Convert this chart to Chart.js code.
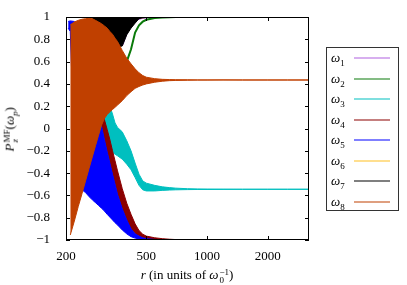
<!DOCTYPE html>
<html>
<head>
<meta charset="utf-8">
<script src="https://cdn.jsdelivr.net/npm/chart.js@4/dist/chart.umd.min.js"></script>
<style>
  body { margin: 0; background: #fff; }
  #wrap { position: relative; width: 407px; height: 285px; font-family: "Liberation Serif", serif; color: #000; }
  #chart { position: absolute; left: 0; top: 0; }
  .ss { display: inline-block; vertical-align: middle; font-size: 9px; line-height: 8px; text-align: left; margin-left: 1px; }
  .ss span { display: block; }
  #xlab { position: absolute; left: 87px; top: 267px; width: 200px; text-align: center; font-size: 13px; line-height: 16px; }
  #ylab { position: absolute; left: -38px; top: 119px; width: 100px; text-align: center; font-size: 13px; line-height: 16px; transform: rotate(-90deg); }
  #legend { position: absolute; left: 326px; top: 47px; width: 73px; height: 164px; border: 1px solid #333; box-sizing: border-box; }
  .row { position: absolute; left: 0; width: 71px; height: 20px; }
  .row .lab { position: absolute; left: 4px; top: 1px; font-size: 13px; line-height: 18px; font-style: italic; }
  .row .lab sub { font-style: normal; font-size: 9px; }
  .row .smp { position: absolute; left: 27px; top: 9px; width: 36px; height: 2px; opacity: 0.5; }
</style>
</head>
<body>
<div id="wrap">
  <canvas id="chart" width="407" height="285"></canvas>
  <div id="ylab"><i>P</i><span class="ss"><span>MF</span><span><i>z</i></span></span>(<i>ω<sub style="font-size:9px">p</sub></i>)</div>
  <div id="xlab"><i>r</i> (in units of <i>ω</i><span class="ss"><span>−1</span><span>0</span></span>)</div>
  <div id="legend"></div>
</div>
<script>
// r values (units of 1/omega0) where the envelopes were read
const rGrid = [205, 210, 220, 230, 240, 250, 260, 270, 280, 290, 300, 310, 320, 330, 340, 350, 360, 380, 400, 420, 440, 460, 480, 500, 550, 600, 650, 700, 800, 900, 1000, 1200, 1500, 2000, 2500, 3200];

const xTicks = [200, 500, 1000, 2000];
const yTicks = [-1, -0.8, -0.6, -0.4, -0.2, 0, 0.2, 0.4, 0.6, 0.8, 1];

const labels = ['1', '2', '3', '4', '5', '6', '7', '8'];
const colors = ['#b060e0', '#0a7a0a', '#00bfbf', '#8b0000', '#0000ff', '#ffc020', '#000000', '#c04000'];

// omega1, omega2, omega6: thin lines
const w1 = [null, null, null, null, null, null, null, null, null, null, null, null, null, null, null, null, null,
  0.75, 0.86, 0.93, 0.97, 0.985, 0.992, 0.996, 0.999, 1, 1, 1, 1, 1, 1, 1, 1, 1, 1, 1];
const w2 = [null, null, null, null, null, null, null, null, null, null, null, null, null, null, null, null,
  0.3, 0.45, 0.6, 0.71, 0.86, 0.925, 0.958, 0.975, 0.99, 0.996, 0.998, 1, 1, 1, 1, 1, 1, 1, 1, 1];
const w6 = [null, null, null, null, null, null, null, null, null, null, null, null, null, null, null, null, null, null,
  0.97, 0.98, 0.99, 0.995, 0.998, 0.999, 1, 1, 1, 1, 1, 1, 1, 1, 1, 1, 1, 1];

// oscillating ones: upper / lower envelopes
const w3Upper = [null, null, null, null, null, null, null, null, null, null,
  0.4, 0.33, 0.26, 0.2, 0.13, 0.05, 0.01, -0.03, -0.11, -0.2, -0.31, -0.41, -0.47, -0.49, -0.51, -0.523, -0.53, -0.535, -0.54, -0.542, -0.543, -0.544, -0.545, -0.545, -0.545, -0.545];
const w3Lower = [null, null, null, null, null, null, null, null, null, null,
  0.1, -0.05, -0.15, -0.19, -0.215, -0.23, -0.245, -0.275, -0.32, -0.37, -0.44, -0.51, -0.55, -0.56, -0.56, -0.555, -0.552, -0.55, -0.548, -0.547, -0.547, -0.546, -0.545, -0.545, -0.545, -0.545];

const w4Upper = [null, null, null, null, null, null, null, null, null, null,
  0.2, 0.08, -0.01, -0.1, -0.2, -0.29, -0.38, -0.54, -0.67, -0.77, -0.855, -0.915, -0.948, -0.965, -0.98, -0.988, -0.993, -0.996, -0.998, -0.999, -1, -1, -1, -1, -1, -1];
const w4Lower = [null, null, null, null, null, null, null, null, null, null,
  0.02, -0.1, -0.21, -0.31, -0.41, -0.5, -0.59, -0.72, -0.82, -0.9, -0.945, -0.965, -0.98, -0.988, -0.995, -0.997, -0.998, -0.999, -1, -1, -1, -1, -1, -1, -1, -1];

const w5Upper = [0.96, 0.965, 0.96, 0.9, 0.8, 0.7, 0.6, 0.5, 0.4, 0.3,
  0.02, -0.1, -0.21, -0.31, -0.41, -0.5, -0.59, -0.72, -0.82, -0.9, -0.945, -0.965, -0.98, -0.988, -0.995, -0.997, -0.998, -0.999, -1, -1, -1, -1, -1, -1, -1, -1];
const w5Lower = [0.9, 0.87, -0.2, -0.45, -0.55, -0.575, -0.61, -0.64, -0.665, -0.69, -0.715, -0.74, -0.77, -0.795, -0.82, -0.845, -0.865, -0.91, -0.945, -0.97, -0.983, -0.99, -0.995, -0.998,
  -1, -1, -1, -1, -1, -1, -1, -1, -1, -1, -1, -1];

const w7Upper = [null, null, null, null, null, null, null,
  1, 1, 1, 1, 1, 1, 1, 1, 1, 1, 1, 1, 1, 1, 1, 1, 1, 1, 1, 1, 1, 1, 1, 1, 1, 1, 1, 1, 1];
const w7Lower = [null, null, null, null, null, null, null,
  0.99, 0.96, 0.93, 0.9, 0.87, 0.84, 0.8, 0.77, 0.75, 0.73, 0.74, 0.84, 0.9, 0.945, 0.985, 0.993, 0.996, 0.999, 1, 1, 1, 1, 1, 1, 1, 1, 1, 1, 1];

const w8Upper = [null,
  0.93, 0.955, 0.97, 0.98, 0.985, 0.988, 0.985, 0.97, 0.955, 0.94, 0.92, 0.9, 0.87, 0.845, 0.81, 0.78, 0.7, 0.63, 0.58, 0.535, 0.5, 0.475, 0.46, 0.447, 0.441, 0.439, 0.438, 0.437, 0.436, 0.436, 0.436, 0.435, 0.435, 0.435, 0.435];
const w8Lower = [null,
  -0.955, -0.83, -0.7, -0.585, -0.47, -0.36, -0.255, -0.155, -0.06, 0.03, 0.09, 0.125, 0.15, 0.17, 0.19, 0.21, 0.25, 0.295, 0.33, 0.36, 0.377, 0.39, 0.4, 0.415, 0.424, 0.429, 0.431, 0.433, 0.434, 0.434, 0.435, 0.435, 0.435, 0.435, 0.435];

const series = [
  { line: w1 },
  { line: w2 },
  { upper: w3Upper, lower: w3Lower },
  { upper: w4Upper, lower: w4Lower },
  { upper: w5Upper, lower: w5Lower },
  { line: w6 },
  { upper: w7Upper, lower: w7Lower },
  { upper: w8Upper, lower: w8Lower }
];

const toPoints = vals => rGrid.map((r, i) => ({ x: r, y: vals[i] })).filter(p => p.y !== null);

const buildDatasets = () => {
  const datasets = [];
  series.forEach((s, i) => {
    // gnuplot draws omega1 first, omega8 last (on top)
    const order = series.length - i;
    if (s.line) {
      datasets.push({ label: labels[i], data: toPoints(s.line), borderColor: colors[i], borderWidth: 2, fill: false, order: order });
    } else {
      datasets.push({ label: labels[i], data: toPoints(s.upper), borderColor: colors[i], backgroundColor: colors[i], borderWidth: 1, fill: '+1', order: order });
      datasets.push({ label: labels[i] + '-low', data: toPoints(s.lower), borderColor: colors[i], borderWidth: 1, fill: false, order: order });
    }
  });
  return datasets;
};

const tickFont = { family: 'Liberation Serif', size: 13 };

// frame + inward ticks on all four sides, like gnuplot
const framePlugin = {
  id: 'frame',
  afterDraw(chart) {
    const { ctx, chartArea, scales } = chart;
    const { left, right, top, bottom } = chartArea;
    ctx.save();
    ctx.strokeStyle = '#000';
    ctx.lineWidth = 1;
    ctx.strokeRect(left + 0.5, top + 0.5, right - left - 1, bottom - top - 1);
    ctx.beginPath();
    yTicks.forEach(v => {
      const py = Math.round(scales.y.getPixelForValue(v)) + 0.5;
      ctx.moveTo(left, py); ctx.lineTo(left + 4, py);
      ctx.moveTo(right - 4, py); ctx.lineTo(right, py);
    });
    xTicks.forEach(v => {
      const px = Math.round(scales.x.getPixelForValue(v)) + 0.5;
      ctx.moveTo(px, bottom); ctx.lineTo(px, bottom - 4);
      ctx.moveTo(px, top); ctx.lineTo(px, top + 4);
    });
    ctx.stroke();
    ctx.restore();
  }
};

new Chart(document.getElementById('chart'), {
  type: 'line',
  data: { datasets: buildDatasets() },
  options: {
    responsive: false,
    animation: false,
    devicePixelRatio: 1,
    layout: { padding: { top: 17, right: 98, left: 0, bottom: 0 } },
    elements: { point: { radius: 0 }, line: { tension: 0 } },
    plugins: { legend: { display: false }, tooltip: { enabled: false } },
    scales: {
      x: {
        type: 'logarithmic',
        min: 200,
        max: 3200,
        grid: { display: false },
        border: { display: false },
        ticks: { font: tickFont, color: '#000', padding: 1, maxRotation: 0, autoSkip: false, callback: v => String(v) },
        afterBuildTicks: s => { s.ticks = xTicks.map(v => ({ value: v })); },
        afterFit: s => { s.height = 45; }
      },
      y: {
        min: -1,
        max: 1,
        grid: { display: false },
        border: { display: false },
        ticks: {
          font: tickFont, color: '#000', padding: 8,
          callback: v => {
            const t = Math.round(v * 10) / 10;
            return t === 0 ? '0' : String(t).replace('-', '\u2212');
          }
        },
        afterBuildTicks: s => { s.ticks = yTicks.map(v => ({ value: v })); },
        afterFit: s => { s.width = 66; }
      }
    }
  },
  plugins: [framePlugin]
});

// legend box, text first then line sample
const legendEl = document.getElementById('legend');
labels.forEach((lab, i) => {
  const row = document.createElement('div');
  row.className = 'row';
  row.style.top = (i * 20.5) + 'px';
  row.innerHTML = '<span class="lab">ω<sub>' + lab + '</sub></span><span class="smp" style="background:' + colors[i] + '"></span>';
  legendEl.appendChild(row);
});
</script>
</body>
</html>
